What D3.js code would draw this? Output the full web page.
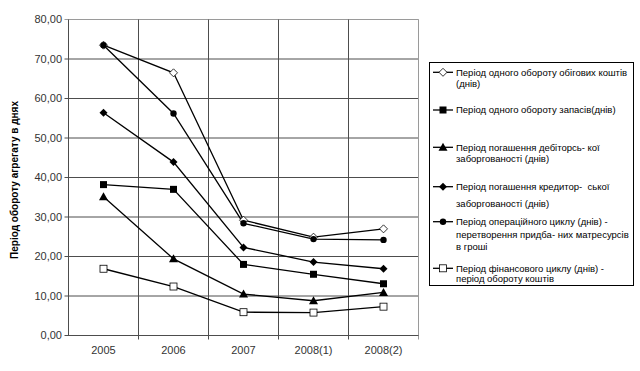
<!DOCTYPE html>
<html><head><meta charset="utf-8">
<script src="https://cdn.jsdelivr.net/npm/d3@7"></script>
<style>body{margin:0;background:#fff}svg{display:block}text{font-family:"Liberation Sans",Arial,sans-serif;white-space:pre}</style>
</head><body><svg id="c" width="640" height="371"></svg>
<script>
const categories = ["2005","2006","2007","2008(1)","2008(2)"];
const yTicks = [0,10,20,30,40,50,60,70,80];
const s1 = [73.5, 66.5, 29.2, 24.9, 27.0];
const s2 = [38.2, 37.0, 18.0, 15.5, 13.1];
const s3 = [35.1, 19.4, 10.5, 8.8, 10.9];
const s4 = [56.4, 43.9, 22.3, 18.6, 16.9];
const s5 = [73.5, 56.2, 28.4, 24.4, 24.2];
const s6 = [16.9, 12.4, 5.9, 5.8, 7.3];
const names = [
  ["Період одного обороту обігових коштів","(днів)"],
  ["Період одного обороту запасів(днів)"],
  ["Період погашення дебіторсь- кої","заборгованості (днів)"],
  ["Період погашення кредитор-  ської","заборгованості (днів)"],
  ["Період операційного циклу (днів) -","перетворення придба- них матресурсів","в гроші"],
  ["Період фінансового циклу (днів) -","період обороту коштів"]
];
const markers = ["odiamond","square","triangle","diamond","circle","osquare"];
const seriesList = [s1,s2,s3,s4,s5,s6];

const svg = d3.select("#c");
const L=68.5, R=418.5, T=19.5, B=335.5;
const x = d3.scaleBand().domain(categories).range([L,R]);
const y = d3.scaleLinear().domain([0,80]).range([B,T]);

// grid
const g = svg.append("g");
g.selectAll("line.h").data(yTicks).join("line")
  .attr("x1",L-4).attr("x2",R).attr("y1",d=>y(d)).attr("y2",d=>y(d))
  .attr("stroke",d=>d===80?"#9a9a9a":"#4d4d4d").attr("stroke-width",1);
g.selectAll("line.v").data(categories).join("line")
  .attr("x1",d=>x(d)+x.bandwidth()).attr("x2",d=>x(d)+x.bandwidth())
  .attr("y1",T).attr("y2",B+4)
  .attr("stroke",(d,i)=>i===categories.length-1?"#9a9a9a":"#4d4d4d");
g.append("line").attr("x1",R).attr("x2",R).attr("y1",T).attr("y2",B).attr("stroke","#9a9a9a");
g.append("line").attr("x1",L).attr("x2",L).attr("y1",T).attr("y2",B).attr("stroke","#4d4d4d");
g.append("line").attr("x1",L).attr("x2",R).attr("y1",B).attr("y2",B).attr("stroke","#4d4d4d");

// axes labels
const fmt = d=>d.toFixed(2).replace(".",",");
svg.append("g").selectAll("text").data(yTicks).join("text")
  .attr("x",62).attr("y",d=>y(d)).attr("dy","0.35em").attr("text-anchor","end")
  .attr("font-size",11).attr("fill","#333").text(fmt);
svg.append("g").selectAll("text").data(categories).join("text")
  .attr("x",d=>x(d)+x.bandwidth()/2).attr("y",354).attr("text-anchor","middle")
  .attr("font-size",11).attr("fill","#333").text(d=>d);
svg.append("text").attr("transform","translate(18,180) rotate(-90)")
  .attr("text-anchor","middle").attr("font-size",10).attr("font-weight","bold")
  .text("Період обороту агрегату в днях");

function drawMarker(sel, type, cx, cy){
  const m = sel.append("g").attr("transform",`translate(${cx},${cy})`);
  if(type==="square") m.append("rect").attr("x",-3.5).attr("y",-3.5).attr("width",7).attr("height",7).attr("fill","#000");
  if(type==="osquare") m.append("rect").attr("x",-3.5).attr("y",-3.5).attr("width",7).attr("height",7).attr("fill","#fff").attr("stroke","#000").attr("stroke-width",0.8);
  if(type==="triangle") m.append("path").attr("d","M0,-4.5L4.5,3.5L-4.5,3.5Z").attr("fill","#000");
  if(type==="diamond") m.append("path").attr("d","M0,-4L4,0L0,4L-4,0Z").attr("fill","#000");
  if(type==="odiamond") m.append("path").attr("d","M0,-4L4,0L0,4L-4,0Z").attr("fill","#fff").attr("stroke","#000").attr("stroke-width",0.8);
  if(type==="circle") m.append("circle").attr("r",3.2).attr("fill","#000");
}

const line = d3.line().x((d,i)=>x(categories[i])+x.bandwidth()/2).y(d=>y(d));
seriesList.forEach((s,k)=>{
  svg.append("path").attr("d",line(s)).attr("fill","none").attr("stroke","#000").attr("stroke-width",1.3);
});
seriesList.forEach((s,k)=>{
  const mg = svg.append("g");
  s.forEach((v,i)=>drawMarker(mg, markers[k], x(categories[i])+x.bandwidth()/2, y(v)));
});

// legend
const lg = svg.append("g");
lg.append("rect").attr("x",429.5).attr("y",62.5).attr("width",204).attr("height",223)
  .attr("fill","#fff").attr("stroke","#000").attr("stroke-width",1);
const lineY = [[72.3,83.3],[110],[147.3,158.5],[186.7,203.3],[221.7,235,246.7],[268.3,279]];
names.forEach((lines,k)=>{
  const yy = lineY[k][0];
  lg.append("line").attr("x1",433).attr("x2",453).attr("y1",yy).attr("y2",yy).attr("stroke","#000").attr("stroke-width",1.3);
  drawMarker(lg, markers[k], 443, yy);
  lines.forEach((t,j)=>{
    lg.append("text").attr("x",456).attr("y",lineY[k][j]).attr("dy","0.35em")
      .attr("font-size",9.5).attr("fill","#000").text(t);
  });
});
</script></body></html>
